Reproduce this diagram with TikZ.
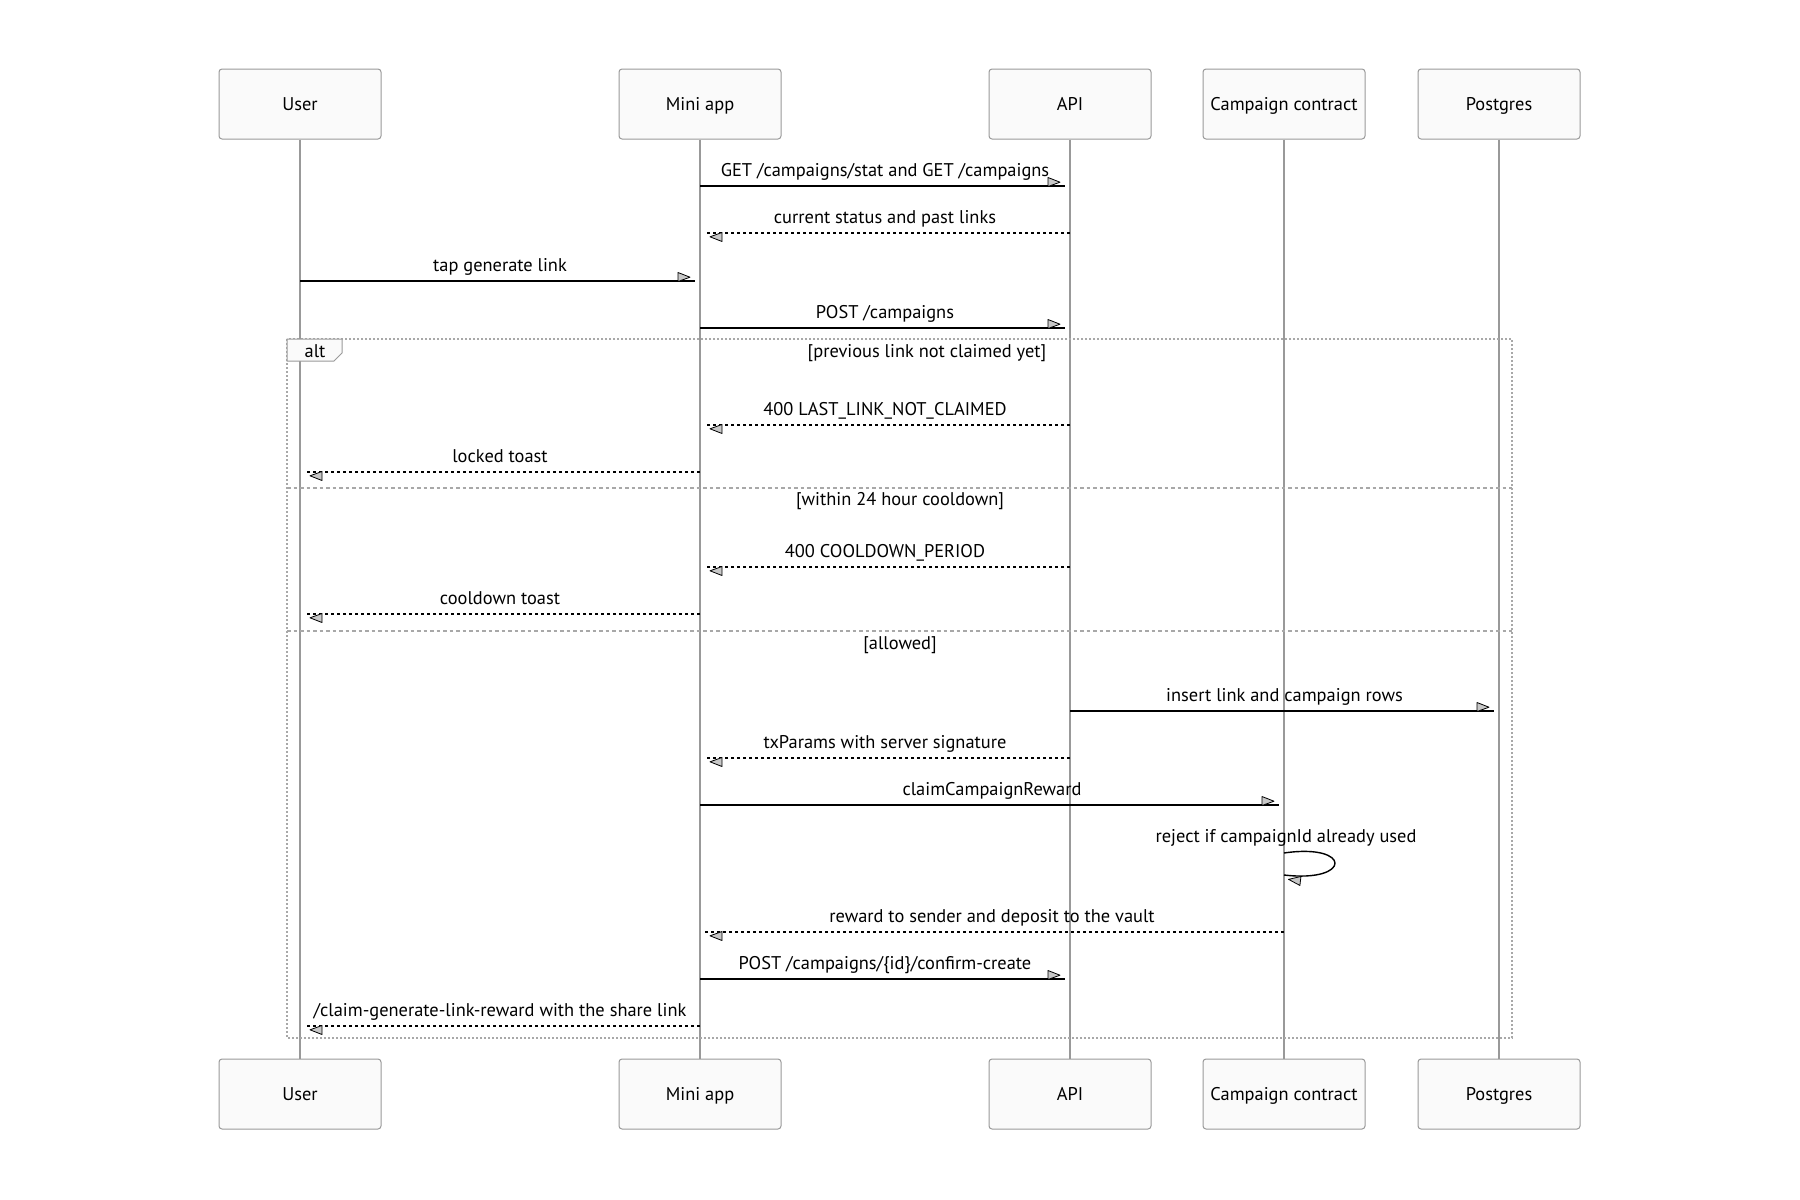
\documentclass[tikz,border=0pt]{standalone}
\usepackage{fontspec}
\setmainfont{PT Sans}
\definecolor{boxfill}{HTML}{FAFAFA}
\definecolor{boxgray}{HTML}{9A9A9A}
\definecolor{lifegray}{HTML}{999999}
\definecolor{headgray}{HTML}{C8C8C8}
\definecolor{framegray}{HTML}{A8A8A8}
\pgfdeclarearrow{
  name = mmd,
  setup code = {
    \pgfarrowssettipend{0pt}
    \pgfarrowssetlineend{0pt}
    \pgfarrowssetbackend{-17pt}
    \pgfarrowssetvisualbackend{-17pt}
  },
  drawing code = {
    \pgfsetdash{}{0pt}
    \pgfsetlinewidth{0.8pt}
    \pgfsetroundjoin
    \pgfpathmoveto{\pgfpoint{-17pt}{8.5pt}}
    \pgfpathlineto{\pgfpoint{-5pt}{3.8pt}}
    \pgfpathlineto{\pgfpoint{-17pt}{-0.5pt}}
    \pgfpathclose
    \pgfsetfillcolor{headgray}
    \pgfusepathqfillstroke
  }
}
\begin{document}
\begin{tikzpicture}[x=1pt,y=-1pt,
  font=\fontsize{18.4}{22}\selectfont,
  actor/.style={draw=boxgray, fill=boxfill, rounded corners=3pt, line width=1pt,
    minimum width=162pt, minimum height=70pt, inner sep=0pt, text height=12.5pt, text depth=0pt},
  life/.style={draw=lifegray, line width=2pt},
  msg/.style={draw=black, line width=1.4pt, -mmd, shorten >=5pt},
  ret/.style={msg, dash pattern=on 3pt off 3pt},
  lbl/.style={inner sep=0pt, anchor=base, yshift=9.8pt},
  frame/.style={draw=framegray, line width=1.6pt, dash pattern=on 2pt off 2pt},
  sep/.style={draw=framegray, line width=1.6pt, dash pattern=on 3.5pt off 3pt},
  cond/.style={inner sep=0pt, anchor=base}
]
\useasboundingbox[fill=white] (0,0) rectangle (1800,1200);

% actors
\node[actor] (u) at (300,104) {User};
\node[actor] (m) at (700,104) {Mini app};
\node[actor] (a) at (1070,104) {API};
\node[actor] (c) at (1284,104) {Campaign contract};
\node[actor] (p) at (1499,104) {Postgres};
\node[actor] (u2) at (300,1094) {User};
\node[actor] (m2) at (700,1094) {Mini app};
\node[actor] (a2) at (1070,1094) {API};
\node[actor] (c2) at (1284,1094) {Campaign contract};
\node[actor] (p2) at (1499,1094) {Postgres};

% lifelines
\foreach \t/\b in {u/u2,m/m2,a/a2,c/c2,p/p2}
  \draw[life] (\t.south) -- (\b.north);

% alt frame
\draw[frame] (287,339) rectangle (1512,1038);
\draw[boxgray, fill=boxfill, line width=1pt] (287,339) -- (342,339) -- (342,353) -- (334,361) -- (287,361) -- cycle;
\node[cond] (altl) at (315,357) {alt};
\node[cond] (c1) at (927,357) {[previous link not claimed yet]};
\draw[sep] (287,488) -- (1512,488);
\node[cond] (c2l) at (900,505) {[within 24 hour cooldown]};
\draw[sep] (287,631) -- (1512,631);
\node[cond] (c3l) at (900,649) {[allowed]};

% messages
\draw[msg] (m |- 0,186) -- node[lbl] {GET /campaigns/stat and GET /campaigns} (a |- 0,186);
\draw[ret] (a |- 0,233) -- node[lbl] {current status and past links} (m |- 0,233);
\draw[msg] (u |- 0,281) -- node[lbl] {tap generate link} (m |- 0,281);
\draw[msg] (m |- 0,328) -- node[lbl] {POST /campaigns} (a |- 0,328);
\draw[ret] (a |- 0,425) -- node[lbl] {400 LAST\_LINK\_NOT\_CLAIMED} (m |- 0,425);
\draw[ret] (m |- 0,472) -- node[lbl] {locked toast} (u |- 0,472);
\draw[ret] (a |- 0,567) -- node[lbl] {400 COOLDOWN\_PERIOD} (m |- 0,567);
\draw[ret] (m |- 0,614) -- node[lbl] {cooldown toast} (u |- 0,614);
\draw[msg] (a |- 0,711) -- node[lbl] {insert link and campaign rows} (p |- 0,711);
\draw[ret] (a |- 0,758) -- node[lbl] {txParams with server signature} (m |- 0,758);
\draw[msg] (m |- 0,805) -- node[lbl] {claimCampaignReward} (c |- 0,805);
\node[cond] (rej) at (1286,842) {reject if campaignId already used};
\draw[msg, shorten >=0pt] (c |- 0,853) .. controls (1352,843) and (1352,883) .. (c |- 0,875);
\draw[ret] (c |- 0,932) -- node[lbl] {reward to sender and deposit to the vault} (m |- 0,932);
\draw[msg] (m |- 0,979) -- node[lbl] {POST /campaigns/\{id\}/confirm-create} (a |- 0,979);
\draw[ret] (m |- 0,1026) -- node[lbl] {/claim-generate-link-reward with the share link} (u |- 0,1026);
\end{tikzpicture}
\end{document}
